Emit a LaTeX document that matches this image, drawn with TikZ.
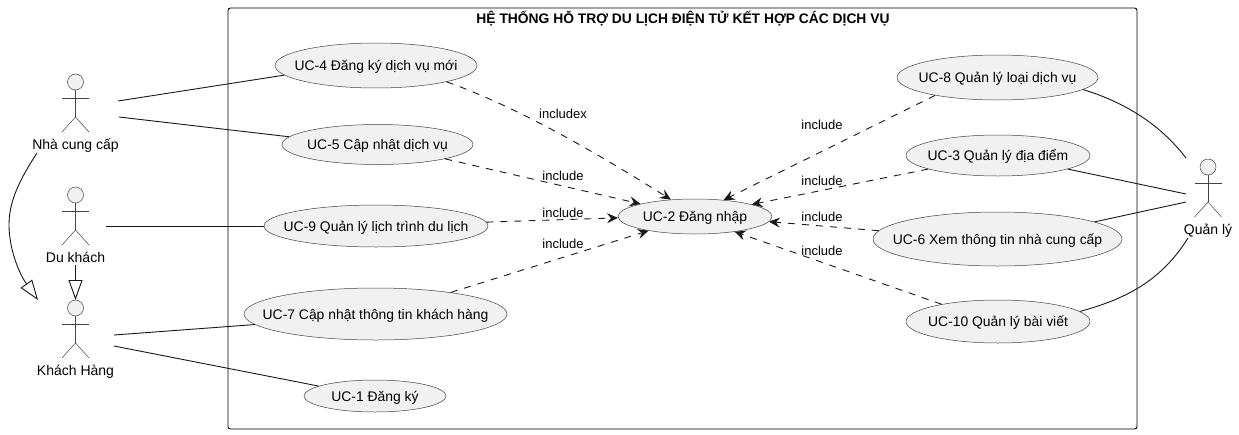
\documentclass[tikz,border=0pt]{standalone}
\usepackage{fontspec}
\setmainfont{Liberation Sans}
\usetikzlibrary{shapes.geometric,arrows.meta}
\definecolor{ink}{HTML}{181818}
\definecolor{thinink}{HTML}{444444}
\definecolor{ucfill}{HTML}{F1F1F1}
\newcommand{\uctxt}[1]{\makebox[0pt]{\raisebox{-5pt}[0pt][0pt]{#1}}}
\newcommand{\actorfig}[5]{%
  % #1 name, #2 x, #3 head y, #4 label, #5 label baseline y
  \node[headbox] (#1) at (#2,#3) {};
  \draw[figline] (#1.south) -- (#2,#3+35);
  \draw[figline] (#2-13.5,#3+16) -- (#2+13.5,#3+16);
  \draw[figline] (#2-13.5,#3+50) -- (#2,#3+35) -- (#2+13.5,#3+50);
  \node[actorlabel] (#1label) at (#2,#5) {#4};
}
\tikzset{
  x=1pt,y=-1pt,
  figline/.style={draw=thinink,line width=0.5pt},
  headbox/.style={circle,draw=thinink,line width=0.5pt,fill=ucfill,minimum size=16pt,inner sep=0pt},
  actorlabel/.style={font=\fontsize{14}{16}\selectfont,text=black,inner sep=0pt,anchor=base},
  usecase/.style={ellipse,draw=thinink,line width=0.5pt,fill=ucfill,inner sep=0pt,font=\fontsize{13.9}{16}\selectfont},
  assoc/.style={draw=ink,line width=0.9pt},
  incl/.style={draw=ink,line width=0.9pt,dash pattern=on 7pt off 7pt,-{Stealth[length=11pt,width=10pt,inset=4pt]}},
  gen/.style={draw=ink,line width=0.9pt,-{Triangle[open,length=20pt,width=14pt,fill=white]}},
  inclabel/.style={font=\fontsize{13}{15}\selectfont,inner sep=0pt,text=black,anchor=base},
  sysbox/.style={draw=black,line width=0.9pt,rounded corners=2.5pt},
  systitle/.style={font=\bfseries\fontsize{13.83}{16}\selectfont,inner sep=0pt,anchor=base},
}
\begin{document}
\begin{tikzpicture}
\useasboundingbox (0,0) rectangle (1239,434);
\fill[white] (0,0) rectangle (1239,434);
\node[sysbox,minimum width=909pt,minimum height=421pt,inner sep=0pt] (sys) at (682.5,218.5) {};
\node[systitle] (systitle) at (683,23) {HỆ THỐNG HỖ TRỢ DU LỊCH ĐIỆN TỬ KẾT HỢP CÁC DỊCH VỤ};

\node[usecase,minimum width=202pt,minimum height=45pt] (uc4) at (376,65.5) {\uctxt{UC-4 Đăng ký dịch vụ mới}};
\node[usecase,minimum width=191pt,minimum height=40pt] (uc5) at (377.5,144.5) {\uctxt{UC-5 Cập nhật dịch vụ}};
\node[usecase,minimum width=224pt,minimum height=42pt] (uc9) at (376,226) {\uctxt{UC-9 Quản lý lịch trình du lịch}};
\node[usecase,minimum width=263pt,minimum height=52pt] (uc7) at (375.5,314) {\uctxt{UC-7 Cập nhật thông tin khách hàng}};
\node[usecase,minimum width=142pt,minimum height=32pt] (uc1) at (375,396) {\uctxt{UC-1 Đăng ký}};
\node[usecase,minimum width=154pt,minimum height=35pt] (uc2) at (695,216.5) {\uctxt{UC-2 Đăng nhập}};
\node[usecase,minimum width=201pt,minimum height=45pt] (uc8) at (997.5,77.5) {\uctxt{UC-8 Quản lý loại dịch vụ}};
\node[usecase,minimum width=184pt,minimum height=41pt] (uc3) at (998,155.5) {\uctxt{UC-3 Quản lý địa điểm}};
\node[usecase,minimum width=249pt,minimum height=54pt] (uc6) at (997.5,239) {\uctxt{UC-6 Xem thông tin nhà cung cấp}};
\node[usecase,minimum width=184pt,minimum height=43pt] (uc10) at (998,321.5) {\uctxt{UC-10 Quản lý bài viết}};

\actorfig{ncc}{75.5}{82}{Nhà cung cấp}{149}
\actorfig{dk}{75.5}{195}{Du khách}{262}
\actorfig{kh}{75.5}{308}{Khách Hàng}{375}
\actorfig{ql}{1208}{167}{Quản lý}{234}

\coordinate (nccA) at (118,101);
\coordinate (nccB) at (119,117);
\coordinate (dkA) at (106,226);
\coordinate (khA) at (114,335);
\coordinate (khB) at (114,346);
\coordinate (qlA) at (1186,158);
\coordinate (qlB) at (1186,194);
\coordinate (qlC) at (1186,202);
\coordinate (qlD) at (1188,238);
\coordinate (genS) at (37,153);
\coordinate (genT) at (38,300);
\coordinate (dkS) at (75.5,265);
\coordinate (khT) at (75.5,300);

\draw[assoc] (nccA) -- (uc4.186.7);
\draw[assoc] (nccB) -- (uc5.175);
\draw[assoc] (dkA) -- (uc9.west);
\draw[assoc] (khA) -- (uc7.185);
\draw[assoc] (khB) -- (uc1.170.5);
\draw[assoc] (uc8.-8) .. controls (1130,104) and (1163,128) .. (qlA);
\draw[assoc] (uc3.-11) -- (qlB);
\draw[assoc] (uc6.10.8) -- (qlC);
\draw[assoc] (uc10.7.6) .. controls (1130,298) and (1163,278) .. (qlD);

\draw[gen] (genS) .. controls (16,185) and (9,205) .. (9,225) .. controls (9,247) and (18,272) .. (genT);
\draw[gen] (dkS) -- (khT);

\draw[incl] (uc4.-13) .. controls (520,108) and (600,155) .. (uc2.145.5);
\draw[incl] (uc5.-12.5) -- (uc2.167);
\draw[incl] (uc9.2) -- (uc2.181);
\draw[incl] (uc7.16.9) -- (uc2.197);
\draw[incl] (uc8.196.5) -- (uc2.30.5);
\draw[incl] (uc3.191) -- (uc2.12);
\draw[incl] (uc6.176) -- (uc2.-4.3);
\draw[incl] (uc10.163) -- (uc2.-21);

\node[inclabel] (l4) at (563,118) {includex};
\node[inclabel] (l5) at (563,180) {include};
\node[inclabel] (l9) at (563,217) {include};
\node[inclabel] (l7) at (563,248) {include};
\node[inclabel] (l8) at (822,129) {include};
\node[inclabel] (l3) at (822,185) {include};
\node[inclabel] (l6) at (822,221) {include};
\node[inclabel] (l10) at (822,255) {include};
\end{tikzpicture}
\end{document}
